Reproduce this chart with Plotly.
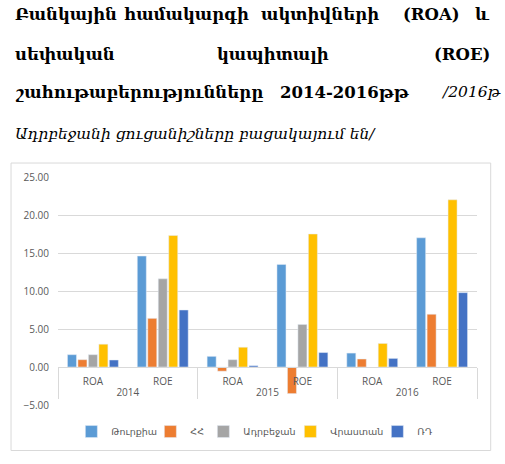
import plotly.graph_objects as go

years = ["2014", "2014", "2015", "2015", "2016", "2016"]
metrics = ["ROA", "ROE", "ROA", "ROE", "ROA", "ROE"]

countries = ["Թուրքիա", "ՀՀ", "Ադրբեջան", "Վրաստան", "ՌԴ"]
turkey = [1.62, 14.6, 1.40, 13.5, 1.83, 17.0]
armenia = [0.96, 6.4, -0.55, -3.5, 1.05, 6.94]
azerbaijan = [1.62, 11.6, 0.96, 5.6, None, None]
georgia = [3.0, 17.3, 2.6, 17.5, 3.1, 22.0]
russia = [0.92, 7.5, 0.17, 1.9, 1.13, 9.78]
series = [turkey, armenia, azerbaijan, georgia, russia]
colors = ["#5B9BD5", "#ED7D31", "#A5A5A5", "#FFC000", "#4472C4"]
legend_w = [34, 8, 42, 42, 14]

W, H = 505, 464
L, R, T, B = 58, 477.3, 177, 405.4  # plot area in pixels


def px2x(px):
    return (px - L) / (R - L)


def py2y(py):
    return (B - py) / (B - T)


fig = go.Figure()
for name, vals, c, lw in zip(countries, series, colors, legend_w):
    fig.add_trace(go.Bar(x=[years, metrics], y=vals, name=name, marker_color=c, legendwidth=lw))

grey = "#595959"
fig.update_layout(
    width=W, height=H,
    margin=dict(l=L, r=W - R, t=T, b=H - B, pad=0),
    paper_bgcolor="white", plot_bgcolor="white",
    barmode="group", bargap=0.25, bargroupgap=0.14,
    font=dict(family="Open Sans, Noto Sans, DejaVu Sans", size=10, color=grey),
    showlegend=True,
    legend=dict(orientation="h", x=px2x(254), xanchor="center", y=py2y(432), yanchor="middle",
                font=dict(size=9.5, color=grey), itemwidth=30, tracegroupgap=0),
)
fig.update_yaxes(range=[-5, 25], dtick=5, tickformat=".2f", showgrid=True, gridcolor="#D9D9D9",
                 zeroline=False, showline=False, ticks="", ticklabelstandoff=8,
                 tickfont=dict(size=10, color=grey))
fig.update_xaxes(type="multicategory", anchor="free", position=py2y(367.3), showline=True,
                 linecolor="#D9D9D9", showdividers=True, dividercolor="#D9D9D9", dividerwidth=1,
                 tickfont=dict(size=10, color=grey), ticks="", ticklabelstandoff=5)

# chart border
fig.add_shape(type="rect", xref="paper", yref="paper", x0=px2x(11), x1=px2x(491),
              y0=py2y(451), y1=py2y(163), line=dict(color="#D9D9D9", width=1), layer="below")

# heading text, justified like the source
bfont = dict(family="DejaVu Serif", size=16.5, color="black")
ifont = dict(family="DejaVu Serif", size=15.5, color="black")
words = [
    ("<b>Բանկային</b>", 13, 14, "left", bfont),
    ("<b>համակարգի</b>", 187, 14, "center", bfont),
    ("<b>ակտիվների</b>", 320, 14, "center", bfont),
    ("<b>(ROA)</b>", 432, 14, "center", bfont),
    ("<b>և</b>", 492, 14, "right", bfont),
    ("<b>սեփական</b>", 13, 54, "left", bfont),
    ("<b>կապիտալի</b>", 273, 54, "center", bfont),
    ("<b>(ROE)</b>", 492, 54, "right", bfont),
    ("<b>շահութաբերությունները</b>", 13, 92, "left", bfont),
    ("<b>2014-2016թթ</b>", 278, 92, "left", bfont),
    ("<i>/2016թ</i>", 503, 92, "right", ifont),
    ("<i>Ադրբեջանի ցուցանիշները բացակայում են/</i>", 13, 134, "left", ifont),
]
for txt, x, y, anc, f in words:
    fig.add_annotation(text=txt, xref="paper", yref="paper", x=px2x(x), y=py2y(y),
                       xanchor=anc, yanchor="middle", showarrow=False, font=f)

fig.write_html("out.html", config={"displayModeBar": False},
               post_script="document.body.style.margin='0';")
